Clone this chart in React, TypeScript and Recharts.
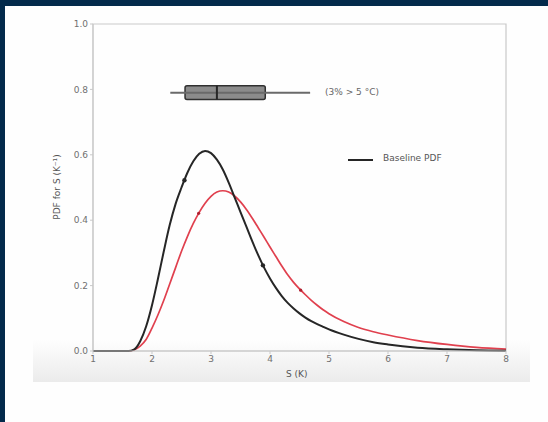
import React from "react";
import {
  ComposedChart, Line, XAxis, YAxis, ReferenceArea, ReferenceLine, ReferenceDot,
} from "recharts";

// climate sensitivity S (K)
const sValues = [
  1, 1.3, 1.6, 1.7, 1.8, 1.9, 2.0, 2.1, 2.2, 2.3, 2.4, 2.5, 2.6, 2.7, 2.8, 2.9, 3.0,
  3.1, 3.2, 3.3, 3.4, 3.5, 3.6, 3.7, 3.8, 3.9, 4.0, 4.1, 4.2, 4.3, 4.4, 4.5,
  4.6, 4.7, 4.8, 4.9, 5.0, 5.25, 5.5, 5.75, 6.0, 6.5, 7.0, 7.5, 8.0,
];
const baselinePdf = [
  0, 0, 0, 0.005, 0.03, 0.075, 0.14, 0.22, 0.305, 0.385, 0.45, 0.5, 0.545, 0.58, 0.603, 0.612, 0.605,
  0.585, 0.555, 0.515, 0.47, 0.425, 0.38, 0.335, 0.293, 0.255, 0.222, 0.193, 0.168, 0.147, 0.13, 0.115,
  0.102, 0.091, 0.082, 0.074, 0.066, 0.05, 0.037, 0.027, 0.02, 0.01, 0.005, 0.002, 0.001,
];
const updatedPdf = [
  0, 0, 0, 0.004, 0.015, 0.035, 0.07, 0.11, 0.155, 0.205, 0.255, 0.305, 0.35, 0.39, 0.424, 0.452, 0.473,
  0.486, 0.49, 0.486, 0.474, 0.456, 0.433, 0.406, 0.377, 0.348, 0.318, 0.289, 0.26, 0.233, 0.21, 0.19,
  0.172, 0.155, 0.14, 0.126, 0.114, 0.09, 0.072, 0.059, 0.049, 0.032, 0.02, 0.011, 0.006,
];

const baselineMarks = [{ s: 2.55, v: 0.522 }, { s: 3.88, v: 0.262 }];
const updatedMarks = [{ s: 2.79, v: 0.421 }, { s: 4.52, v: 0.186 }];

// box plot: whisker lo, box lo, median, box hi, whisker hi
const boxStats = [2.31, 2.56, 3.1, 3.92, 4.68];
const boxLevel = 0.79;

const xTicks = [1, 2, 3, 4, 5, 6, 7, 8];
const yTicks = [0, 0.2, 0.4, 0.6, 0.8, 1.0];

const rows = sValues.map((s, i) => ({ s, base: baselinePdf[i], upd: updatedPdf[i] }));

const NAVY = "#032a4b";
const AXIS = "#c9c9c9";
const TICK = { fill: "#707070", fontSize: 9, fontFamily: "DejaVu Sans" };
const BLACK = "#262626";
const RED = "#e0404e";

export default function App() {
  const [wLo, bLo, med, bHi, wHi] = boxStats;
  const half = 0.021;
  return (
    <div style={{ position: "absolute", left: 0, top: 0, width: 548, height: 422, background: NAVY, overflow: "hidden" }}>
      <div style={{ position: "absolute", left: 5, top: 6, right: 0, bottom: 0, background: "#fefefe" }} />
      <div style={{
        position: "absolute", left: 33, top: 340, width: 497, height: 42,
        background: "linear-gradient(to bottom, rgba(236,236,236,0) 0%, #ebebeb 100%)",
      }} />
      <div style={{ position: "absolute", left: 0, top: 0 }}>
        <ComposedChart width={548} height={422} data={rows} margin={{ top: 24, right: 42, bottom: 41, left: 53 }}>
          <ReferenceArea x1={1} x2={8} y1={0} y2={1} fill="none" stroke={AXIS} strokeWidth={1.2} ifOverflow="visible" />
          <XAxis
            dataKey="s" type="number" domain={[1, 8]} ticks={xTicks} height={30}
            stroke={AXIS} tick={TICK} tickSize={3} tickLine={{ stroke: AXIS }} interval={0}
            tickFormatter={(v) => String(v)}
          />
          <YAxis
            type="number" domain={[0, 1]} ticks={yTicks} width={40}
            stroke={AXIS} tick={TICK} tickSize={3} tickLine={{ stroke: AXIS }} interval={0}
            tickFormatter={(v) => v.toFixed(1)}
          />
          <Line type="monotone" dataKey="upd" stroke={RED} strokeWidth={1.7} dot={false} isAnimationActive={false} />
          <Line type="monotone" dataKey="base" stroke={BLACK} strokeWidth={2} dot={false} isAnimationActive={false} />
          {baselineMarks.map((m, i) => (
            <ReferenceDot key={"b" + i} x={m.s} y={m.v} r={2.2} fill={BLACK} stroke="none" />
          ))}
          {updatedMarks.map((m, i) => (
            <ReferenceDot key={"r" + i} x={m.s} y={m.v} r={1.6} fill="#b02030" stroke="none" />
          ))}
          <ReferenceLine segment={[{ x: wLo, y: boxLevel }, { x: wHi, y: boxLevel }]} stroke="#6a6a6a" strokeWidth={2} />
          <ReferenceArea x1={bLo} x2={bHi} y1={boxLevel - half} y2={boxLevel + half} fill="#8c8c8c" fillOpacity={1} stroke="#303030" strokeWidth={1.5} radius={2} />
          <ReferenceLine segment={[{ x: med, y: boxLevel - half }, { x: med, y: boxLevel + half }]} stroke="#262626" strokeWidth={2} />
        </ComposedChart>
      </div>
      <div style={{ position: "absolute", left: 325, top: 87, fontFamily: "DejaVu Sans", fontSize: 9, color: "#666", whiteSpace: "nowrap" }}>
        (3% &gt; 5 °C)
      </div>
      <div style={{ position: "absolute", left: 348, top: 159, width: 25, height: 2, background: BLACK }} />
      <div style={{ position: "absolute", left: 383, top: 153, fontFamily: "DejaVu Sans", fontSize: 9, color: "#555", whiteSpace: "nowrap" }}>
        Baseline PDF
      </div>
      <div style={{ position: "absolute", left: 286, top: 369, fontFamily: "DejaVu Sans", fontSize: 9, color: "#555", whiteSpace: "nowrap" }}>
        S (K)
      </div>
      <div style={{
        position: "absolute", left: 57, top: 187, fontFamily: "DejaVu Sans", fontSize: 9, color: "#555", whiteSpace: "nowrap",
        transform: "translate(-50%, -50%) rotate(-90deg)",
      }}>
        PDF for S (K⁻¹)
      </div>
    </div>
  );
}
